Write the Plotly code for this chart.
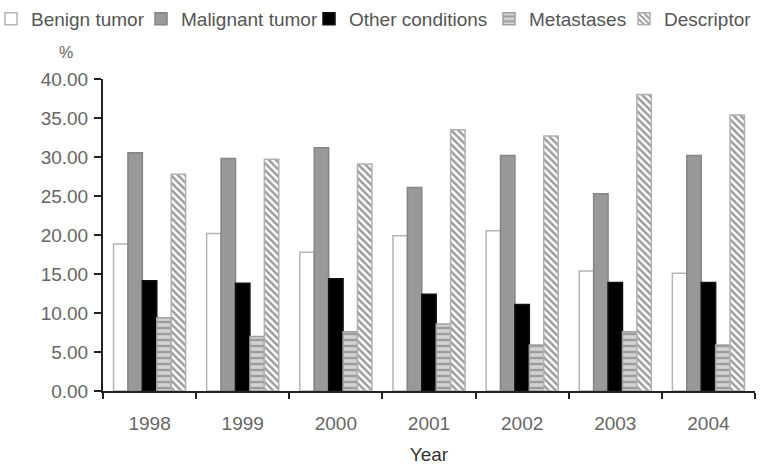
import plotly.graph_objects as go

years = ["1998", "1999", "2000", "2001", "2002", "2003", "2004"]
benign = [18.85, 20.2, 17.8, 19.9, 20.55, 15.4, 15.1]
malignant = [30.55, 29.8, 31.2, 26.1, 30.2, 25.3, 30.2]
other = [14.15, 13.8, 14.4, 12.4, 11.1, 13.9, 13.9]
metastases = [9.4, 7.0, 7.6, 8.6, 5.9, 7.6, 5.9]
descriptor = [27.8, 29.7, 29.1, 33.5, 32.7, 38.0, 35.4]

FONT = "Liberation Sans, Arial, sans-serif"
FS = 19

fig = go.Figure()
fig.add_trace(go.Bar(name="Benign tumor", x=years, y=benign, legend="legend",
                     marker=dict(color="white", line=dict(color="#b5b5b5", width=1.5))))
fig.add_trace(go.Bar(name="Malignant tumor", x=years, y=malignant, legend="legend2",
                     marker=dict(color="#999999", line=dict(color="#858585", width=1.5))))
fig.add_trace(go.Bar(name="Other conditions", x=years, y=other, legend="legend3",
                     marker=dict(color="black", line=dict(color="#111111", width=1.5))))
fig.add_trace(go.Bar(name="Metastases", x=years, y=metastases, legend="legend4",
                     marker=dict(color="white", line=dict(color="#a0a0a0", width=1.5),
                                 pattern=dict(shape="-", fgcolor="#666666", bgcolor="#d2d2d2",
                                              size=6, solidity=0.4))))
fig.add_trace(go.Bar(name="Descriptor", x=years, y=descriptor, legend="legend5",
                     marker=dict(color="white", line=dict(color="#b0b0b0", width=1.5),
                                 pattern=dict(shape="\\", fgcolor="#3a3a3a", bgcolor="white",
                                              size=5, solidity=0.5))))

L, R, T, B = 103, 5, 79, 76
PW = 760 - L - R
text_starts = [32, 182, 350, 530, 665]
legend_common = dict(orientation="h", xref="paper", yref="container",
                     xanchor="left", yanchor="middle", y=1 - 19 / 467,
                     font=dict(family=FONT, size=FS, color="#555555"),
                     bgcolor="rgba(0,0,0,0)", borderwidth=0)
legends = {}
for i, xs in enumerate(text_starts):
    key = "legend" if i == 0 else f"legend{i+1}"
    legends[key] = dict(legend_common, x=(xs - 41 - L) / PW)

fig.update_layout(
    width=760, height=467,
    showlegend=True,
    margin=dict(l=L, r=R, t=T, b=B, autoexpand=False),
    plot_bgcolor="white", paper_bgcolor="white",
    barmode="group", bargap=0.226, bargroupgap=0,
    font=dict(family=FONT, size=FS, color="#666666"),
    xaxis=dict(showline=True, linecolor="#222222", linewidth=2,
               ticks="outside", tickson="boundaries", ticklen=6, tickwidth=2, tickcolor="#222222",
               tickfont=dict(family=FONT, size=FS, color="#666666"), ticklabelstandoff=14,
               title=dict(text="Year", font=dict(family=FONT, size=FS, color="#333333"), standoff=15),
               showgrid=False, zeroline=False),
    yaxis=dict(range=[0, 40], dtick=5, tickformat=".2f",
               showline=True, linecolor="#222222", linewidth=2,
               ticks="outside", ticklen=7, tickwidth=2, tickcolor="#222222",
               tickfont=dict(family=FONT, size=FS, color="#666666"), ticklabelstandoff=2,
               showgrid=False, zeroline=False),
    annotations=[dict(text="%", xref="paper", yref="paper", x=(66 - L) / PW, y=1 + (T - 52) / 312,
                      showarrow=False, xanchor="center", yanchor="middle",
                      font=dict(family=FONT, size=16, color="#666666"))],
    **legends,
)

fig.write_html("out.html")
